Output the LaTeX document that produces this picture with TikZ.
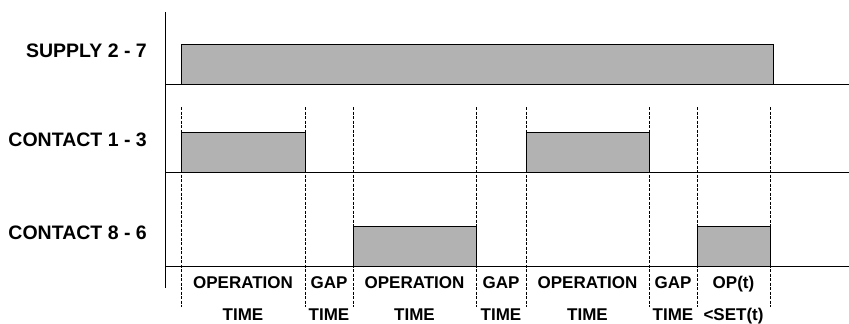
\documentclass[tikz,border=0pt]{standalone}
\usepackage{fontspec}
\setmainfont{Liberation Sans}
\usetikzlibrary{positioning}

\begin{document}
\begin{tikzpicture}[x=1pt, y=-1pt]
    % Styles
    \tikzstyle{pulse} = [draw=black, fill=black!30, line width=1pt]
    \tikzstyle{level} = [draw=black, line width=1pt]
    \tikzstyle{edgeline} = [draw=black, line width=0.75pt, dash pattern=on 3pt off 1.5pt]
    \tikzstyle{signame} = [anchor=east, inner sep=0pt, font=\fontsize{19.5}{21}\selectfont\bfseries]
    \tikzstyle{phase} = [anchor=base, inner sep=0pt, font=\fontsize{17}{19}\selectfont\bfseries]

    \useasboundingbox (0,0) rectangle (849,324);

    % Pulses
    \draw[pulse] (181,44) rectangle (773,84);
    \draw[pulse] (181,132) rectangle (305,172);
    \draw[pulse] (526,132) rectangle (649,172);
    \draw[pulse] (353,226) rectangle (476,266);
    \draw[pulse] (697,226) rectangle (770,266);

    % Axis and levels
    \draw[level] (165,12) -- (165,288);
    \draw[level] (165,84) -- (849,84);
    \draw[level] (165,172) -- (849,172);
    \draw[level] (165,266) -- (849,266);

    % Switching instants
    \foreach \x in {181,305,353,476,526,649,697,770}
        \draw[edgeline] (\x,107) -- (\x,307);

    % Signal names
    \node[signame] (supply) at (147,50.5) {SUPPLY 2 - 7};
    \node[signame] (c13) at (147,140) {CONTACT 1 - 3};
    \node[signame] (c86) at (147,233) {CONTACT 8 - 6};

    % Phases
    \node[phase] (op1) at (243,288) {OPERATION};
    \node[phase] (gap1) at (329,288) {GAP};
    \node[phase] (op2) at (414.5,288) {OPERATION};
    \node[phase] (gap2) at (501,288) {GAP};
    \node[phase] (op3) at (587.5,288) {OPERATION};
    \node[phase] (gap3) at (673,288) {GAP};
    \node[phase] (opt) at (733.5,288) {OP(t)};
    \node[phase] (time1) at (243,320) {TIME};
    \node[phase] (time2) at (329,320) {TIME};
    \node[phase] (time3) at (414.5,320) {TIME};
    \node[phase] (time4) at (501,320) {TIME};
    \node[phase] (time5) at (587.5,320) {TIME};
    \node[phase] (time6) at (673,320) {TIME};
    \node[phase] (sett) at (733.5,320) {<SET(t)};
\end{tikzpicture}
\end{document}
